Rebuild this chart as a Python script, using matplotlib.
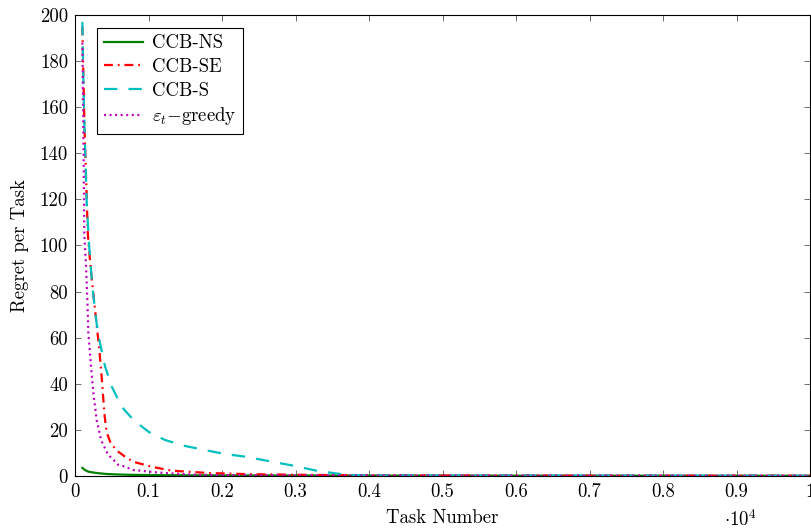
import matplotlib
matplotlib.use("Agg")
import matplotlib.pyplot as plt

plt.rcParams['font.family'] = 'serif'
plt.rcParams['font.serif'] = ['cmr10', 'DejaVu Serif']
plt.rcParams['mathtext.fontset'] = 'cm'
plt.rcParams['axes.unicode_minus'] = False

# Data (task number, regret per task)
x_ns = [100, 140, 180, 250, 320, 420, 550, 700, 1000, 1500, 2000, 3000, 5000, 7500, 10000]
y_ns = [3.5, 2.5, 1.9, 1.5, 1.2, 0.9, 0.7, 0.55, 0.4, 0.3, 0.25, 0.2, 0.15, 0.12, 0.1]

x_se = [100, 110, 120, 130, 150, 175, 200, 230, 260, 290, 330, 365, 400, 430, 490,
        590, 680, 790, 1045, 1317, 1816, 2360, 3000, 3500, 4000, 5000, 7000, 10000]
y_se = [195, 180, 165, 150, 130, 105, 95, 85, 76, 67, 55, 42, 27, 19, 13.9,
        10.5, 8.4, 6.2, 4.0, 2.3, 1.3, 0.8, 0.55, 0.4, 0.3, 0.2, 0.15, 0.1]

x_s = [100, 115, 130, 160, 190, 236, 295, 340, 409, 500, 636, 795, 1000, 1226, 1500,
       2043, 2316, 2680, 3000, 3300, 3600, 3800, 4000, 5000, 7000, 10000]
y_s = [197, 170, 150, 118, 101, 82, 66, 57.7, 47.5, 38.8, 30, 24.3, 19.2, 15.6, 13,
       9.5, 8.4, 6.2, 4.3, 2.2, 0.9, 0.4, 0.25, 0.2, 0.15, 0.1]

x_eps = [100, 113, 127, 150, 168, 182, 218, 250, 295, 354, 454, 500, 590, 654, 795,
         863, 1000, 1180, 1590, 2000, 3000, 5000, 10000]
y_eps = [188, 152, 105, 91, 76, 62, 47.5, 36, 24.3, 15.6, 9.0, 7.8, 4.8, 4.3, 2.6,
         2.4, 1.9, 1.4, 0.6, 0.4, 0.25, 0.15, 0.1]

xtick_vals = [0, 1000, 2000, 3000, 4000, 5000, 6000, 7000, 8000, 9000, 10000]
xtick_labels = ['0', '0.1', '0.2', '0.3', '0.4', '0.5', '0.6', '0.7', '0.8', '0.9', '1']
ytick_vals = [0, 20, 40, 60, 80, 100, 120, 140, 160, 180, 200]

fig = plt.figure(figsize=(8.12, 5.29), dpi=100)
ax = fig.add_axes([75/812, 53/529, 735/812, 461/529])

lw = 1.6
ax.plot(x_ns, y_ns, color='#008000', lw=lw, label='CCB-NS')
ax.plot(x_se, y_se, color='#ff0000', lw=lw, dashes=(4, 2.2, 0.8, 2.2), label='CCB-SE')
ax.plot(x_s, y_s, color='#00bfbf', lw=lw, dashes=(6, 5), label='CCB-S')
ax.plot(x_eps, y_eps, color='#bf00bf', lw=lw, dashes=(0.9, 1.6), label=r'$\varepsilon_t$$-$greedy')

ax.set_xlim(0, 10000)
ax.set_ylim(0, 200)
ax.set_xticks(xtick_vals)
ax.set_xticklabels(xtick_labels)
ax.set_yticks(ytick_vals)
ax.tick_params(direction='in', top=True, right=True, length=4, width=0.6,
               labelsize=13.5, color='#555555', pad=5)
for s in ax.spines.values():
    s.set_linewidth(0.8)

ax.set_xlabel('Task Number', fontsize=13.5, labelpad=6)
ax.set_ylabel('Regret per Task', fontsize=13.5, labelpad=8)
fig.text(740/812, 1 - 520/529, r'$\cdot 10^4$', fontsize=13.5, ha='center', va='center')

leg = ax.legend(loc='upper left', bbox_to_anchor=(22/735, 1 - 13/461), fontsize=13.5,
                frameon=True, fancybox=False, edgecolor='black', framealpha=1,
                handlelength=2.1, borderpad=0.35, labelspacing=0.3, handletextpad=0.5,
                borderaxespad=0)
leg.get_frame().set_linewidth(0.8)

fig.savefig('out.png', dpi=100)
